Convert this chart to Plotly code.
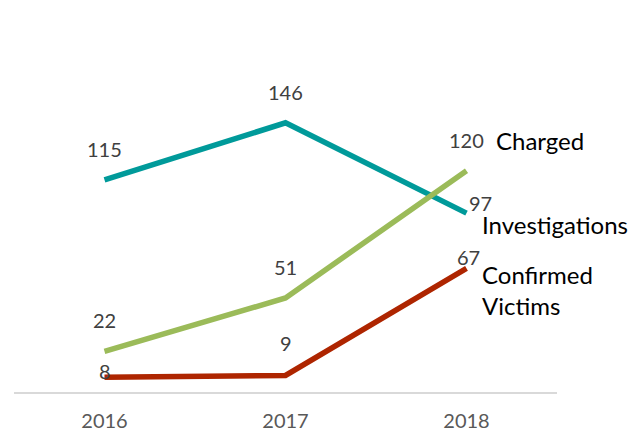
import plotly.graph_objects as go

# data
years = ["2016", "2017", "2018"]
investigations = [115, 146, 97]
charged = [22, 51, 120]
confirmed_victims = [8, 9, 67]

series = [
    ("Investigations", investigations, "#009A9A"),
    ("Charged", charged, "#9BBB59"),
    ("Confirmed<br>Victims", confirmed_victims, "#AE2500"),
]

# label offsets (px) for value labels, per series / point
value_shift = {
    "Investigations": [(0, 31), (0, 31), (14, 10)],
    "Charged": [(0, 31), (0, 31), (0, 31)],
    "Confirmed<br>Victims": [(0, 6), (0, 32), (2, 11)],
}
# offsets for series-name labels next to last point
name_shift = {
    "Investigations": (13, 5, "top"),
    "Charged": (27, 30, "middle"),
    "Confirmed<br>Victims": (13, 10, "top"),
}

fig = go.Figure()
annotations = []
for name, vals, color in series:
    fig.add_trace(go.Scatter(
        x=years, y=vals, mode="lines", name=name,
        line=dict(color=color, width=5.5),
        showlegend=False, hoverinfo="skip",
    ))
    # category index used for annotation x (year strings look numeric)
    for i, v in enumerate(vals):
        dx, dy = value_shift[name][i]
        annotations.append(dict(
            x=i, y=v, xref="x", yref="y", text=str(v), showarrow=False,
            xshift=dx, yshift=dy, font=dict(size=20, color="#404040"),
        ))
    dx, dy, va = name_shift[name]
    annotations.append(dict(
        x=len(vals) - 1, y=vals[-1], xref="x", yref="y", text=name,
        showarrow=False, xanchor="left", yanchor=va, align="left",
        xshift=dx, yshift=dy, font=dict(size=24, color="#000000"),
    ))

# page body has an 8px margin, so the plot margins are offset by it
fig.update_layout(
    width=644, height=431,
    margin=dict(l=6, r=95, t=89, b=47),
    paper_bgcolor="white", plot_bgcolor="white",
    font=dict(family="Lato, Open Sans, sans-serif"),
    annotations=annotations,
)
fig.update_xaxes(
    type="category", range=[-0.5, 2.5],
    showgrid=False, zeroline=False,
    showline=True, linecolor="#D9D9D9", linewidth=2,
    ticks="", tickfont=dict(size=20, color="#595959"),
    ticklabelstandoff=10,
)
fig.update_yaxes(range=[0, 160], showgrid=False, zeroline=False,
                 showline=False, showticklabels=False, ticks="")

fig.write_html("out.html")
